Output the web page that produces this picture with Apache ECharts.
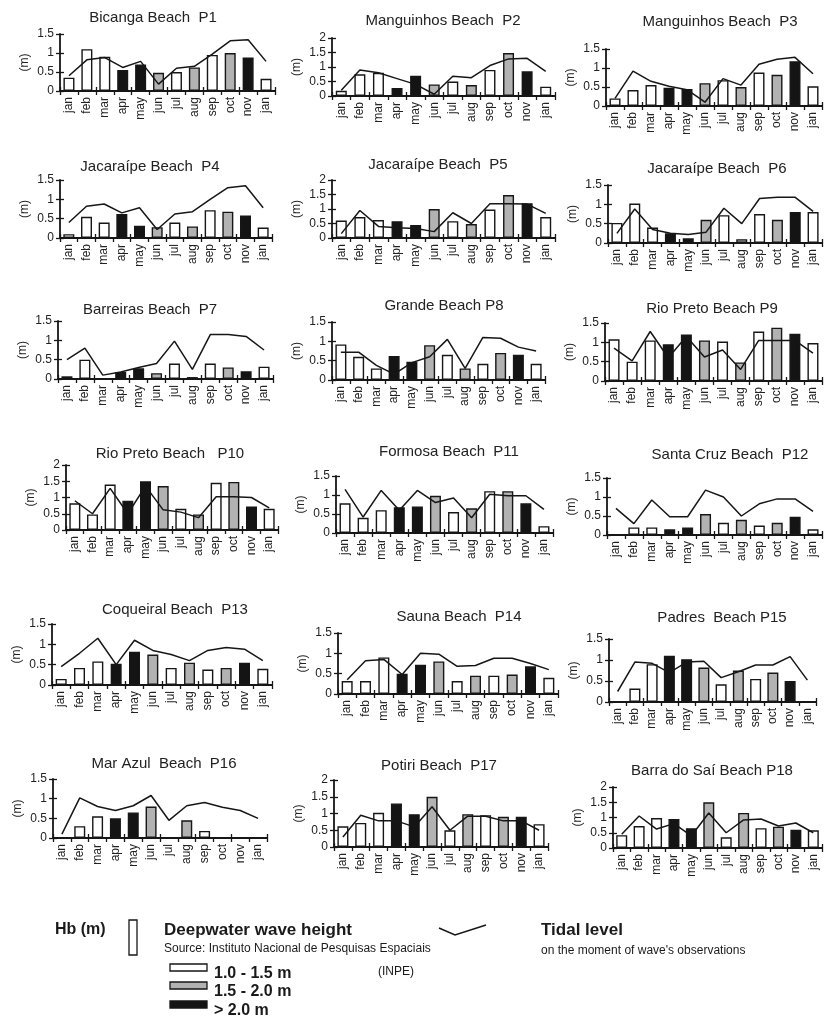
<!DOCTYPE html>
<html><head><meta charset="utf-8">
<script src="https://cdn.jsdelivr.net/npm/echarts/dist/echarts.min.js"></script>
<style>html,body{margin:0;padding:0;background:#fff}#c{width:824px;height:1021px}</style>
</head><body><div id="c"></div>
<script>
// ---------- DATA ----------
const months = ['jan','feb','mar','apr','may','jun','jul','aug','sep','oct','nov','jan'];
const titles = [
  'Bicanga Beach  P1','Manguinhos Beach  P2','Manguinhos Beach  P3',
  'Jacaraípe Beach  P4','Jacaraípe Beach  P5','Jacaraípe Beach  P6',
  'Barreiras Beach  P7','Grande Beach P8','Rio Preto Beach P9',
  'Rio Preto Beach   P10','Formosa Beach  P11','Santa Cruz Beach  P12',
  'Coqueiral Beach  P13','Sauna Beach  P14','Padres  Beach P15',
  'Mar Azul  Beach  P16','Potiri Beach  P17','Barra do Saí Beach P18'
];
const yMax = [1.5,2,1.5, 1.5,2,1.5, 1.5,1.5,1.5, 2,1.5,1.5, 1.5,1.5,1.5, 1.5,2,2];
// wave height class per month: w = 1.0-1.5 m, g = 1.5-2.0 m, b = > 2.0 m
const classLabels = {w:'1.0 - 1.5 m', g:'1.5 - 2.0 m', b:'> 2.0 m'};
const waveHeight = [
  [0.35,1.1,0.9,0.55,0.7,0.48,0.5,0.62,0.95,1.0,0.88,0.32],
  [0.18,0.75,0.8,0.28,0.7,0.4,0.5,0.38,0.9,1.48,0.85,0.32],
  [0.2,0.42,0.55,0.48,0.45,0.6,0.68,0.5,0.88,0.82,1.18,0.52],
  [0.1,0.55,0.4,0.62,0.32,0.28,0.4,0.3,0.72,0.68,0.58,0.27],
  [0.6,0.72,0.62,0.58,0.45,1.0,0.58,0.48,0.98,1.48,1.2,0.72],
  [0.52,1.02,0.4,0.25,0.12,0.6,0.72,0.1,0.75,0.6,0.8,0.8],
  [0.07,0.5,null,0.18,0.28,0.15,0.4,0.05,0.4,0.3,0.2,0.32],
  [0.92,0.6,0.3,0.62,0.47,0.9,0.65,0.3,0.42,0.7,0.65,0.42],
  [1.08,0.5,1.05,0.95,1.2,1.05,1.02,0.48,1.28,1.38,1.22,0.98],
  [0.82,0.48,1.4,0.9,1.5,1.35,0.65,0.48,1.45,1.48,0.72,0.65],
  [0.78,0.4,0.6,0.68,0.7,0.98,0.55,0.65,1.1,1.1,0.78,0.18],
  [null,0.2,0.2,0.15,0.2,0.55,0.32,0.4,0.25,0.32,0.48,0.15],
  [0.15,0.42,0.58,0.52,0.82,0.75,0.42,0.55,0.38,0.42,0.55,0.4],
  [0.32,0.32,0.9,0.5,0.72,0.8,0.32,0.45,0.45,0.48,0.68,0.4],
  [null,0.32,0.9,1.1,1.02,0.82,0.42,0.75,0.55,0.7,0.5,null],
  [null,0.3,0.55,0.5,0.65,0.8,null,0.45,0.18,null,null,null],
  [0.62,0.72,1.02,1.3,0.98,1.5,0.5,0.98,0.95,0.9,0.9,0.68],
  [0.42,0.72,0.98,0.95,0.65,1.5,0.35,1.15,0.65,0.7,0.6,0.58]
];
const waveClass = [
  'wwwbbgwgwgbw','wwwbbgwgwgbw','wwwbbgwgwgbw',
  'wwwbbgwgwgbw','wwwbbgwgwgbw','wwwbbgwgwgbw',
  'bwwbbgwbwgbw','wwwbbgwgwgbw','wwwbbgwgwgbw',
  'wwwbbgwgwgbw','wwwbbgwgwgbw','wwwbbgwgwgbw',
  'wwwbbgwgwgbw','wwwbbgwgwgbw','wwwbbgwgwgbw',
  'wwwbbgwgwgbw','wwwbbgwgwgbw','wwwbbgwgwgbw'
];
const tidalLevel = [
  [0.4,0.82,0.88,0.62,0.78,0.18,0.6,0.65,0.97,1.32,1.35,0.78],
  [0.2,0.9,0.8,0.6,0.4,0.06,0.68,0.63,1.05,1.28,1.3,0.85],
  [0.2,0.92,0.65,0.52,0.43,0.1,0.72,0.55,1.1,1.23,1.28,0.85],
  [0.4,0.82,0.88,0.65,0.78,0.22,0.62,0.68,1.0,1.3,1.35,0.78],
  [0.15,0.95,0.4,0.35,0.33,0.22,0.87,0.5,1.18,1.18,1.17,0.85],
  [0.25,0.88,0.35,0.25,0.22,0.28,0.9,0.5,1.15,1.18,1.18,0.82],
  [0.5,0.8,0.1,0.18,0.3,0.4,0.98,0.25,1.15,1.15,1.1,0.75],
  [0.72,0.72,0.38,0.15,0.45,0.6,1.05,0.3,1.1,1.08,0.85,0.75],
  [0.85,0.52,1.28,0.6,1.15,0.62,0.8,0.3,1.05,1.05,1.05,0.72],
  [0.9,0.5,1.28,0.5,1.35,0.62,0.55,0.38,1.02,1.02,1.0,0.68],
  [1.15,0.42,1.12,0.6,1.12,0.8,0.92,0.4,1.02,0.98,0.98,0.62],
  [0.7,0.3,0.92,0.48,0.48,1.18,1.0,0.5,0.82,0.95,0.95,0.62],
  [0.45,0.78,1.15,0.5,1.1,0.85,0.75,0.6,0.85,0.92,0.88,0.6],
  [0.35,0.82,0.85,0.48,1.0,0.98,0.68,0.7,0.88,0.88,0.75,0.6],
  [0.25,0.95,0.92,0.7,0.95,0.97,0.58,0.72,0.88,0.88,1.08,0.52],
  [0.1,1.02,0.8,0.7,0.82,1.08,0.45,0.82,0.9,0.78,0.7,0.5],
  [0.3,0.95,0.78,0.78,0.6,1.2,0.5,0.92,0.92,0.78,0.78,0.5],
  [0.45,1.05,0.62,0.8,0.4,1.15,0.5,0.92,0.95,0.72,0.82,0.5]
];

// ---------- LAYOUT ----------
// plot box per panel: [left, top, right, bottom]; title centre [x, y]
const panelBoxes = [
  [60,34,275,91],[332,38,555,96],[606,49,822,106],
  [60,180,272,238],[332,180,555,238],[608,185,822,243],
  [58,321,273,379],[332,322,545,380],[605,323,822,381],
  [66,465,278,530],[336,476,553,533],[607,478,822,535],
  [52,624,272,685],[338,633,558,694],[609,639,816,702],
  [53,779,267,838],[334,780,548,847],[613,787,822,848]
];
const titlePos = [
  [153,18],[443,21],[720,22],
  [150,167],[438,165],[717,169],
  [150,310],[444,306],[712,309],
  [170,454],[449,452],[730,455],
  [175,610],[459,617],[722,618],
  [164,764],[439,766],[712,771]
];
const fills = {w:'#ffffff', g:'#b2b2b2', b:'#141414'};
const ink = '#161616';
const FONT = 'Liberation Sans, Arial, sans-serif';

const chart = echarts.init(document.getElementById('c'), null, {renderer:'canvas'});
const grids=[], xAxes=[], yAxes=[], series=[], graphics=[];

panelBoxes.forEach((b,i)=>{
  grids.push({left:b[0], top:b[1], width:b[2]-b[0], height:b[3]-b[1]});
  const tickStyle = {color:ink, width:1.3};
  xAxes.push({type:'category', gridIndex:i, data:months, position:'bottom',
    axisLine:{show:true, onZero:false, lineStyle:{color:ink, width:1.8}},
    axisTick:{show:true, length:4, lineStyle:tickStyle},
    axisLabel:{rotate:90, interval:0, fontSize:12, color:'#222', margin:6, fontFamily:FONT},
    splitLine:{show:false}});
  xAxes.push({type:'category', gridIndex:i, data:months, position:'bottom',
    axisLine:{show:false}, axisTick:{show:true, inside:true, length:4, lineStyle:tickStyle},
    axisLabel:{show:false}, splitLine:{show:false}});
  yAxes.push({type:'value', gridIndex:i, min:0, max:yMax[i], interval:0.5, position:'left',
    name:'(m)', nameLocation:'middle', nameGap:29, nameRotate:90,
    nameTextStyle:{fontSize:12, color:'#222', fontFamily:FONT},
    axisLine:{show:true, lineStyle:{color:ink, width:1.8}},
    axisTick:{show:true, length:4, lineStyle:tickStyle},
    axisLabel:{fontSize:12, color:'#222', margin:6, fontFamily:FONT},
    splitLine:{show:false}});
  yAxes.push({type:'value', gridIndex:i, min:0, max:yMax[i], interval:0.5, position:'left',
    axisLine:{show:false}, axisTick:{show:true, inside:true, length:4, lineStyle:tickStyle},
    axisLabel:{show:false}, splitLine:{show:false}});
  series.push({type:'bar', name:'Deepwater wave height', xAxisIndex:2*i, yAxisIndex:2*i, barWidth:11,
    data: waveHeight[i].map((v,k)=>({value: v===null ? '-' : v,
      itemStyle:{color:fills[waveClass[i][k]]}})),
    itemStyle:{borderColor:ink, borderWidth:1.4}, z:2});
  series.push({type:'line', name:'Tidal level', xAxisIndex:2*i, yAxisIndex:2*i,
    data:tidalLevel[i], symbol:'none', lineStyle:{color:ink, width:1.5}, z:3});
  graphics.push({type:'text', x:titlePos[i][0], y:titlePos[i][1],
    style:{text:titles[i], font:'15px '+FONT, fill:'#222', align:'center', verticalAlign:'middle'}});
});

// ---------- LEGEND (drawn as graphic decoration) ----------
const T = (x,y,text,font)=>({type:'text', x, y,
  style:{text, font:font+' '+FONT, fill:'#1a1a1a', align:'left', verticalAlign:'middle'}});
graphics.push(T(55,930,'Hb (m)','bold 16px'));
graphics.push({type:'rect', shape:{x:129,y:920,width:8,height:35}, style:{fill:'#fff', stroke:ink, lineWidth:1.3}});
graphics.push(T(164,930,'Deepwater wave height','bold 17px'));
graphics.push(T(164,949,'Source: Instituto Nacional de Pesquisas Espaciais','12px'));
graphics.push(T(378,972,'(INPE)','12px'));
const swY = [968, 986, 1005];
['w','g','b'].forEach((c,k)=>{
  graphics.push({type:'rect', shape:{x:170,y:swY[k]-4,width:37,height:7}, style:{fill:fills[c], stroke:ink, lineWidth:1.3}});
  graphics.push(T(214, swY[k]+6, classLabels[c], 'bold 16px'));
});
graphics.push({type:'polyline', shape:{points:[[439,928],[455,935],[486,925]]}, style:{stroke:ink, lineWidth:1.5, fill:null}});
graphics.push(T(541,930,'Tidal level','bold 17px'));
graphics.push(T(541,951,"on the moment of wave's observations",'12px'));

chart.setOption({
  backgroundColor:'#ffffff',
  animation:false,
  textStyle:{fontFamily:FONT},
  grid:grids, xAxis:xAxes, yAxis:yAxes, series, graphic:graphics
});
</script></body></html>
